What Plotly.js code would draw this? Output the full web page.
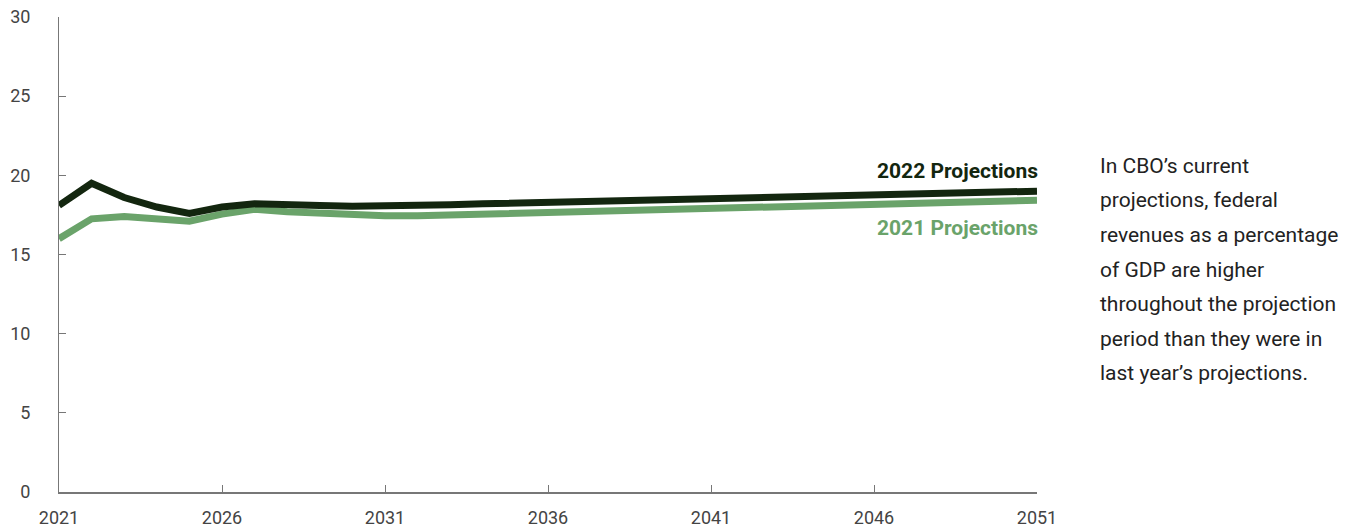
<!DOCTYPE html>
<html>
<head>
<meta charset="utf-8">
<script src="https://cdn.plot.ly/plotly-3.0.1.min.js"></script>
<style>
html,body{margin:0;padding:0;background:#fff;}
#chart{width:1357px;height:529px;}
</style>
</head>
<body>
<div id="chart"></div>
<script>
const years = [2021,2022,2023,2024,2025,2026,2027,2028,2029,2030,2031,2032,2033,2034,2035,2036,2037,2038,2039,2040,2041,2042,2043,2044,2045,2046,2047,2048,2049,2050,2051];
const proj2022 = [18.1,19.5,18.6,18.0,17.6,18.0,18.2,18.1,18.1,18.05,18.05,18.1,18.15,18.2,18.25,18.3,18.35,18.4,18.45,18.5,18.5,18.55,18.6,18.65,18.65,18.7,18.75,18.8,18.9,18.95,19.0];
const proj2021 = [16.0,17.25,17.4,17.25,17.1,17.55,17.85,17.7,17.6,17.5,17.45,17.45,17.5,17.55,17.6,17.65,17.7,17.72,17.76,17.8,17.85,17.9,17.95,18.0,18.05,18.1,18.15,18.2,18.3,18.35,18.42];
const xTicks = [2021,2026,2031,2036,2041,2046,2051];
const yTicks = [0,5,10,15,20,25,30];
const seriesNames = ["2022 Projections","2021 Projections"];
const noteLines = ["In CBO’s current","projections, federal","revenues as a percentage","of GDP are higher","throughout the projection","period than they were in","last year’s projections."];

const darkColor = "#13260f";
const greenColor = "#6aa36a";

const traces = [
  {x: years, y: proj2021, type: "scatter", mode: "lines", name: seriesNames[1],
   line: {color: greenColor, width: 7, shape: "linear"}, hoverinfo: "skip"},
  {x: years, y: proj2022, type: "scatter", mode: "lines", name: seriesNames[0],
   line: {color: darkColor, width: 7, shape: "linear"}, hoverinfo: "skip"}
];

const annotations = [
  {x: 2051, y: 20.3, xref: "x", yref: "y", xshift: 3, text: "<b>" + seriesNames[0] + "</b>", showarrow: false,
   xanchor: "right", yanchor: "middle", font: {family: "Roboto, sans-serif", size: 21, color: darkColor}},
  {x: 2051, y: 16.7, xref: "x", yref: "y", xshift: 3, text: "<b>" + seriesNames[1] + "</b>", showarrow: false,
   xanchor: "right", yanchor: "middle", font: {family: "Roboto, sans-serif", size: 21, color: greenColor}}
];
const noteTop = 166, noteStep = 34.5;
noteLines.forEach((t, i) => {
  annotations.push({
    xref: "paper", yref: "paper", x: (1098 - 59) / 978, y: (492 - (noteTop + i * noteStep)) / 475,
    text: t, showarrow: false, xanchor: "left", yanchor: "middle",
    font: {family: "Roboto, sans-serif", size: 21, color: "#222"}
  });
});

const layout = {
  width: 1357, height: 529,
  margin: {l: 59, r: 320, t: 17, b: 37},
  paper_bgcolor: "#fff", plot_bgcolor: "#fff",
  showlegend: false,
  font: {family: "Roboto, sans-serif", size: 18, color: "#444"},
  xaxis: {
    range: [2021, 2051], tickvals: xTicks, ticktext: xTicks.map(String),
    showgrid: false, zeroline: false, showline: true, linecolor: "#777", linewidth: 2,
    ticks: "inside", ticklen: 7, tickwidth: 1, tickcolor: "#777",
    ticklabelstandoff: 8, fixedrange: true
  },
  yaxis: {
    range: [0, 30], tickvals: yTicks, ticktext: yTicks.map(String),
    showgrid: false, zeroline: false, showline: true, linecolor: "#777", linewidth: 1,
    ticks: "inside", ticklen: 7, tickwidth: 1, tickcolor: "#777",
    ticklabelstandoff: 24, fixedrange: true
  },
  annotations: annotations
};

Plotly.newPlot("chart", traces, layout, {displayModeBar: false, staticPlot: true});
</script>
</body>
</html>
